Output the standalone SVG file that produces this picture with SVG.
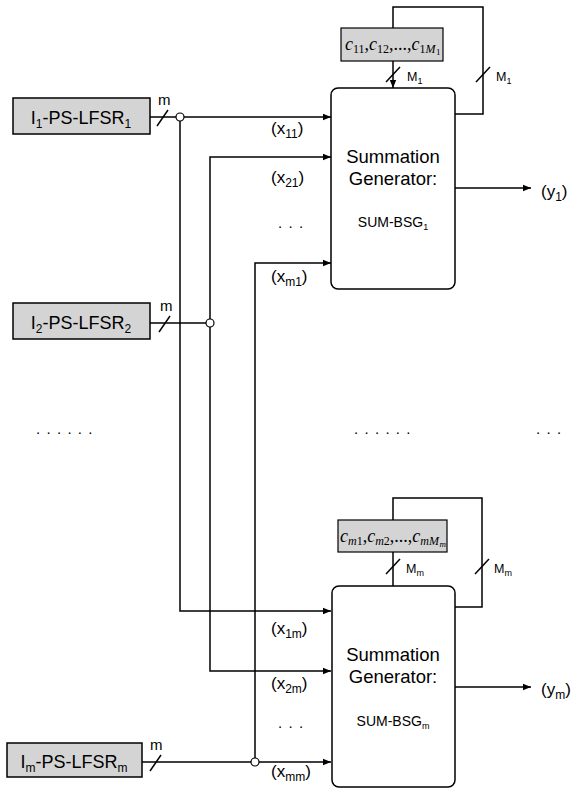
<svg xmlns="http://www.w3.org/2000/svg" width="573" height="789" viewBox="0 0 573 789">
<defs>
<marker id="ah" viewBox="0 0 10 10" refX="10" refY="5" markerWidth="8" markerHeight="8" markerUnits="userSpaceOnUse" orient="auto">
<path d="M0,1 L10,5 L0,9 z" fill="#000"/>
</marker>
<style>
.ln{fill:none;stroke:#000;stroke-width:1.5}
.arr{fill:none;stroke:#000;stroke-width:1.5;marker-end:url(#ah)}
.lfsr{fill:#d4d4d4;stroke:#000;stroke-width:1.5}
.coef{fill:#d4d4d4;stroke:#000;stroke-width:1.2}
.sg{fill:#fff;stroke:#000;stroke-width:1.5}
.dot{fill:#fff;stroke:#000;stroke-width:1.2}
text{font-family:"Liberation Sans",Arial,sans-serif;fill:#000}
.big{font-size:18px}
.sum{font-size:18.5px;text-anchor:middle}
.small{font-size:14px;text-anchor:middle}
.lbl{font-size:17px}
.m{font-size:15px}
.M{font-size:12.5px}
.dots{font-size:15px;letter-spacing:6.3px}
.c{font-family:"Liberation Serif","Times New Roman",serif;font-size:18px;font-style:italic}
</style>
</defs>

<g id="connectors">
<path class="arr" d="M150,117 H331"/>
<path class="ln" d="M157,126 L168,110"/>
<path class="arr" d="M180,121 V611 H331"/>
<path class="ln" d="M150,323 H206"/>
<path class="ln" d="M159,332 L170,316"/>
<path class="arr" d="M210,327 V671 H331"/>
<path class="arr" d="M210,319 V157 H331"/>
<path class="ln" d="M142,762 H251"/>
<path class="arr" d="M259,762 H331"/>
<path class="ln" d="M150,771 L161,755"/>
<path class="arr" d="M255,758 V263 H331"/>
<path class="arr" d="M393,61 V88"/>
<path class="ln" d="M386,82 L400,67"/>
<path class="ln" d="M455,114 H483 V7 H393 V28"/>
<path class="ln" d="M476,82 L490,67"/>
<path class="ln" d="M393,552 V586"/>
<path class="ln" d="M386,574 L400,559"/>
<path class="ln" d="M455,607 H482 V498 H393 V520"/>
<path class="ln" d="M475,574 L489,559"/>
<path class="arr" d="M455,188 H531"/>
<path class="arr" d="M455,687 H531"/>
</g>

<g id="junctions">
<circle class="dot" cx="180" cy="117" r="4"/>
<circle class="dot" cx="210" cy="323" r="4"/>
<circle class="dot" cx="255" cy="762" r="4"/>
</g>

<g id="lfsr1">
<rect class="lfsr" x="13" y="98" width="137" height="36"/>
<text class="big" x="81" y="124" text-anchor="middle">I<tspan font-size="12" dy="4">1</tspan><tspan dy="-4">-PS-LFSR</tspan><tspan font-size="12" dy="4">1</tspan></text>
<text class="m" x="158" y="105">m</text>
</g>

<g id="lfsr2">
<rect class="lfsr" x="13" y="303" width="137" height="36"/>
<text class="big" x="81" y="329" text-anchor="middle">I<tspan font-size="12" dy="4">2</tspan><tspan dy="-4">-PS-LFSR</tspan><tspan font-size="12" dy="4">2</tspan></text>
<text class="m" x="160" y="311">m</text>
</g>

<g id="lfsrm">
<rect class="lfsr" x="7" y="743" width="135" height="34"/>
<text class="big" x="74" y="768" text-anchor="middle">I<tspan font-size="12" dy="4">m</tspan><tspan dy="-4">-PS-LFSR</tspan><tspan font-size="12" dy="4">m</tspan></text>
<text class="m" x="150" y="750">m</text>
</g>

<g id="coef1">
<rect class="coef" x="341" y="28" width="102" height="33"/>
<text class="c" x="345" y="50">c<tspan font-style="normal" font-size="12" dy="3">11</tspan><tspan dy="-3" font-style="normal">,</tspan>c<tspan font-style="normal" font-size="12" dy="3">12</tspan><tspan dy="-3" font-style="normal">,...,</tspan>c<tspan font-size="12" dy="3"><tspan font-style="normal">1</tspan>M</tspan><tspan font-size="9" font-style="normal" dy="2" dx="0.5">1</tspan></text>
<text class="M" x="407" y="81">M<tspan font-size="9" dy="3">1</tspan></text>
<text class="M" x="496" y="81">M<tspan font-size="9" dy="3">1</tspan></text>
</g>

<g id="sum1">
<rect class="sg" x="331" y="88" width="124" height="201" rx="7"/>
<text class="sum" x="393" y="163">Summation</text>
<text class="sum" x="393" y="185">Generator:</text>
<text class="small" x="393" y="227">SUM-BSG<tspan font-size="9" dy="3">1</tspan></text>
<text class="lbl" x="271" y="134">(x<tspan font-size="12" dy="4">11</tspan><tspan dy="-4">)</tspan></text>
<text class="lbl" x="271" y="183">(x<tspan font-size="12" dy="4">21</tspan><tspan dy="-4">)</tspan></text>
<text class="dots" x="278" y="228">...</text>
<text class="lbl" x="271" y="282">(x<tspan font-size="12" dy="4">m1</tspan><tspan dy="-4">)</tspan></text>
<text class="lbl" x="541" y="197">(y<tspan font-size="12" dy="4">1</tspan><tspan dy="-4">)</tspan></text>
</g>

<g id="ellipsis">
<text class="dots" x="36" y="434">......</text>
<text class="dots" x="354" y="434">......</text>
<text class="dots" x="536" y="434">...</text>
</g>

<g id="coefm">
<rect class="coef" x="338" y="520" width="109" height="32"/>
<text class="c" x="340" y="542">c<tspan font-size="12" dy="3">m<tspan font-style="normal">1</tspan></tspan><tspan dy="-3" font-style="normal">,</tspan>c<tspan font-size="12" dy="3">m<tspan font-style="normal">2</tspan></tspan><tspan dy="-3" font-style="normal">,...,</tspan>c<tspan font-size="12" dy="3">mM</tspan><tspan font-size="9" dy="2" dx="0.5">m</tspan></text>
<text class="M" x="406" y="573">M<tspan font-size="9" dy="3">m</tspan></text>
<text class="M" x="494" y="573">M<tspan font-size="9" dy="3">m</tspan></text>
</g>

<g id="summ">
<rect class="sg" x="332" y="586" width="123" height="201" rx="7"/>
<text class="sum" x="393" y="661">Summation</text>
<text class="sum" x="393" y="683">Generator:</text>
<text class="small" x="393" y="726">SUM-BSG<tspan font-size="9" dy="3">m</tspan></text>
<text class="lbl" x="271" y="634">(x<tspan font-size="12" dy="4">1m</tspan><tspan dy="-4">)</tspan></text>
<text class="lbl" x="271" y="689">(x<tspan font-size="12" dy="4">2m</tspan><tspan dy="-4">)</tspan></text>
<text class="dots" x="278" y="728">...</text>
<text class="lbl" x="271" y="777">(x<tspan font-size="12" dy="4">mm</tspan><tspan dy="-4">)</tspan></text>
<text class="lbl" x="541" y="695">(y<tspan font-size="12" dy="4">m</tspan><tspan dy="-4">)</tspan></text>
</g>
</svg>
